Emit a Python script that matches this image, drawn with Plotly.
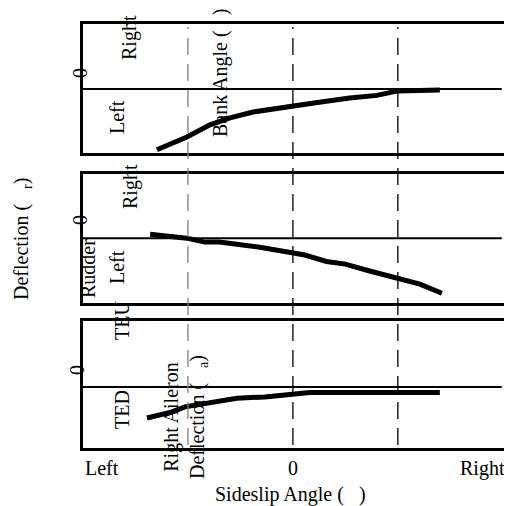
import plotly.graph_objects as go

# ---- data ----
bank_x = [-0.648, -0.505, -0.395, -0.30, -0.19, 0.0, 0.10, 0.27, 0.40, 0.50, 0.60, 0.70]
bank_y = [-0.95, -0.75, -0.56, -0.45, -0.36, -0.28, -0.22, -0.14, -0.10, -0.03, -0.02, -0.015]

rud_x = [-0.68, -0.61, -0.505, -0.42, -0.35, -0.157, 0.0, 0.057, 0.16, 0.25, 0.37, 0.50, 0.605, 0.71]
rud_y = [0.06, 0.04, 0.0, -0.06, -0.06, -0.14, -0.22, -0.26, -0.36, -0.40, -0.51, -0.62, -0.71, -0.85]

ail_x = [-0.695, -0.58, -0.514, -0.395, -0.267, -0.133, -0.048, 0.0, 0.08, 0.70]
ail_y = [-0.47, -0.38, -0.30, -0.23, -0.17, -0.15, -0.12, -0.11, -0.085, -0.085]

dash_x = [-0.5, 0.0, 0.5]
dash_colors = ["#808080", "#000000", "#000000"]
xtick_vals = [-1.0, 0.0, 1.02]
xtick_text = ["Left", "0", "Right"]
xtick_anchor = ["left", "center", "right"]

OFF = 8  # page body margin
W, H = 512 - OFF, 506 - OFF
FONT = "Liberation Serif"
FS = 20

def py(p):
    return 1 - (p - OFF) / H

def px(p):
    return (p - OFF) / W

fig = go.Figure()
axes = [("x", "y", bank_x, bank_y), ("x2", "y2", rud_x, rud_y), ("x3", "y3", ail_x, ail_y)]
for xa, ya, xs, ys in axes:
    fig.add_trace(go.Scatter(x=xs, y=ys, xaxis=xa, yaxis=ya, mode="lines",
                             line=dict(color="black", width=5), showlegend=False,
                             hoverinfo="skip"))

xdom = [px(83), px(507)]
ydoms = [[py(153), py(24)], [py(303), py(174)], [py(448), py(321)]]
yranges = [[-1, 1.015], [-1, 0.99], [-0.924, 1]]
xr = [-1, 1.02]

layout = dict(width=W, height=H, margin=dict(l=0, r=0, t=0, b=0),
              paper_bgcolor="white", plot_bgcolor="white", showlegend=False,
              font=dict(family=FONT, size=FS, color="black"))
for i in range(3):
    sx = "" if i == 0 else str(i + 1)
    layout["xaxis" + sx] = dict(domain=xdom, range=xr, anchor="y" + sx, showgrid=False,
                                zeroline=False, showticklabels=False, ticks="",
                                showline=True, mirror=True, linecolor="black", linewidth=2.5)
    layout["yaxis" + sx] = dict(domain=ydoms[i], range=yranges[i], anchor="x" + sx, showgrid=False,
                                zeroline=False, showticklabels=False, ticks="",
                                showline=True, mirror=True, linecolor="black", linewidth=2.5)
fig.update_layout(**layout)

shapes = []
# zero lines
for i in range(3):
    sx = "" if i == 0 else str(i + 1)
    shapes.append(dict(type="line", xref="x" + sx, yref="y" + sx, x0=-1, x1=0.995, y0=0, y1=0,
                       line=dict(color="black", width=2)))
# dashed verticals
for xv, c in zip(dash_x, dash_colors):
    shapes.append(dict(type="line", xref="x3", yref="paper", x0=xv, x1=xv, y0=py(445), y1=py(27),
                       line=dict(color=c, width=1.3, dash="17px,9px")))
fig.update_layout(shapes=shapes)

ann = []
def rot(text, x, y, size=FS):
    ann.append(dict(text=text, x=px(x), y=py(y), xref="paper", yref="paper", textangle=-90,
                    showarrow=False, xanchor="center", yanchor="middle",
                    font=dict(family=FONT, size=size, color="black")))

# panel 1
rot("Right", 130, 38)
rot("Left", 117, 117)
rot("0", 80, 73)
rot("Bank Angle (   )", 220, 73)
# panel 2
rot("Right", 130, 187)
rot("0", 80, 220)
rot("Left", 117, 267)
rot("Rudder", 88, 269)
rot("Deflection (   <sub>r</sub>)", 22, 239)
rot("TEU", 122, 321)
# panel 3
rot("0", 77, 370)
rot("TED", 122, 410)
rot("Right Aileron<br>Deflection (   <sub>a</sub>)", 185, 417)

for v, t, a in zip(xtick_vals, xtick_text, xtick_anchor):
    ann.append(dict(text=t, x=v, y=py(468), xref="x3", yref="paper", showarrow=False,
                    xanchor=a, yanchor="middle", font=dict(family=FONT, size=FS, color="black")))
ann.append(dict(text="Sideslip Angle (   )", x=px(290), y=py(494), xref="paper", yref="paper",
                showarrow=False, xanchor="center", yanchor="middle",
                font=dict(family=FONT, size=FS, color="black")))
fig.update_layout(annotations=ann)

fig.write_html("out.html")
